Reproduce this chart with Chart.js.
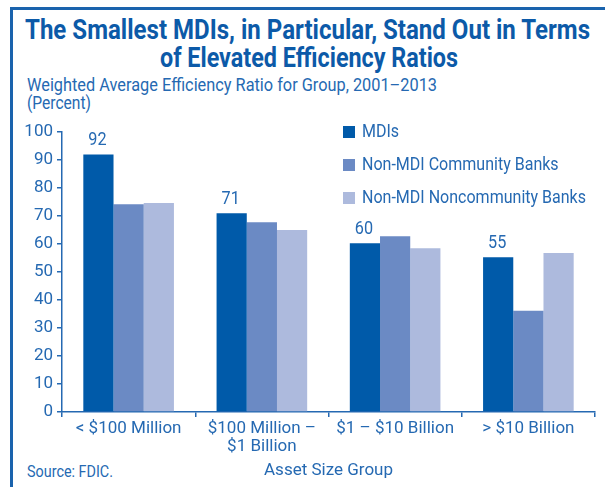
<!DOCTYPE html>
<html>
<head>
<meta charset="utf-8">
<script src="https://cdn.jsdelivr.net/npm/chart.js@4.4.0/dist/chart.umd.min.js"></script>
<style>
  body { margin: 0; background: #fff; }
  #wrap { position: relative; width: 605px; height: 487px; overflow: hidden; font-family: Roboto, sans-serif; color: #2569b2; }
  #frame { position: absolute; left: 10px; top: 7px; width: 700px; height: 600px; border-left: 3px solid #1a63ad; border-top: 3px solid #1a63ad; }
  .fit { position: absolute; white-space: nowrap; transform-origin: 0 0; }
  .title { font-weight: bold; font-size: 28px; color: #0c5aa8; }
  .txt { font-size: 18.5px; }
  canvas { position: absolute; left: 0; top: 0; }
</style>
</head>
<body>
<div id="wrap">
  <div id="frame"></div>
  <div class="fit title" data-x="25" data-w="565" style="top:13px">The Smallest MDIs, in Particular, Stand Out in Terms</div>
  <div class="fit title" data-x="160" data-w="298" style="top:41px">of Elevated Efficiency Ratios</div>
  <div class="fit txt" data-x="27" data-w="410" style="top:74px">Weighted Average Efficiency Ratio for Group, 2001–2013</div>
  <div class="fit txt" data-x="27" data-w="64" style="top:92px">(Percent)</div>
  <div class="fit txt" data-x="27" data-w="86" style="top:461px;font-size:17px">Source: FDIC.</div>
  <canvas id="myChart" width="605" height="487"></canvas>
</div>
<script>
var groups = [["< $100 Million"], ["$100 Million –", "$1 Billion"], ["$1 – $10 Billion"], ["> $10 Billion"]];
var mdis = [92, 71, 60.3, 55.3];
var communityBanks = [74.2, 67.8, 62.8, 36.2];
var noncommunityBanks = [74.6, 65, 58.5, 56.8];
var mdiLabels = ["92", "71", "60", "55"];
var yTicks = [0, 10, 20, 30, 40, 50, 60, 70, 80, 90, 100];

var blue = "#2569b2";
var font = "Roboto, sans-serif";

// squeeze the html texts to the widths of the condensed face
document.querySelectorAll(".fit").forEach(el => {
  const w = el.getBoundingClientRect().width
  el.style.left = el.dataset.x + "px"
  el.style.transform = "scaleX(" + (el.dataset.w / w) + ")"
})

// value labels over the MDI bars
const barLabels = {
  id: "barLabels",
  afterDatasetsDraw(chart) {
    const ctx = chart.ctx
    const meta = chart.getDatasetMeta(0)
    ctx.save()
    ctx.fillStyle = blue
    ctx.font = "18px " + font
    ctx.textAlign = "center"
    ctx.textBaseline = "bottom"
    meta.data.forEach((bar, i) => {
      ctx.save()
      ctx.translate(bar.x - 1, bar.y - 5)
      ctx.scale(0.9, 1)
      ctx.fillText(mdiLabels[i], 0, 0)
      ctx.restore()
    })
    ctx.restore()
  }
}

// legend inside the plot, top right
const boxLegend = {
  id: "boxLegend",
  afterDraw(chart) {
    const ctx = chart.ctx
    const x = chart.chartArea.left + 281
    ctx.save()
    ctx.font = "18px " + font
    ctx.textBaseline = "middle"
    chart.data.datasets.forEach((ds, i) => {
      const y = chart.chartArea.top + 33 * i
      ctx.fillStyle = ds.backgroundColor
      ctx.fillRect(x, y - 6, 12, 12)
      ctx.fillStyle = blue
      ctx.save()
      ctx.translate(x + 19, y)
      ctx.scale(0.89, 1)
      ctx.fillText(ds.label, 0, 0)
      ctx.restore()
    })
    ctx.restore()
  }
}

new Chart("myChart", {
  type: "bar",
  data: {
    labels: groups,
    datasets: [
      { label: "MDIs", data: mdis, backgroundColor: "#005aa9" },
      { label: "Non-MDI Community Banks", data: communityBanks, backgroundColor: "#6b8ac4" },
      { label: "Non-MDI Noncommunity Banks", data: noncommunityBanks, backgroundColor: "#adbadd" }
    ]
  },
  options: {
    responsive: false,
    animation: false,
    layout: { padding: { left: 0, right: 10, top: 132, bottom: 0 } },
    datasets: { bar: { categoryPercentage: 0.68, barPercentage: 1 } },
    plugins: { legend: { display: false }, tooltip: { enabled: false } },
    scales: {
      y: {
        min: 0, max: 100,
        afterFit: s => { s.width = 62 },
        afterBuildTicks: s => { s.ticks = yTicks.map(v => ({ value: v })) },
        border: { color: blue, width: 1.5 },
        grid: { drawOnChartArea: false, color: blue, tickLength: 5, lineWidth: 1.5 },
        ticks: { color: blue, font: { family: font, size: 17 }, padding: 4 }
      },
      x: {
        afterFit: s => { s.height = 75 },
        border: { color: blue, width: 1.5 },
        grid: { offset: true, drawOnChartArea: false, color: blue, tickLength: 5, lineWidth: 1.5 },
        ticks: { color: blue, font: { family: font, size: 17, lineHeight: 1.1 }, padding: 2, maxRotation: 0, autoSkip: false },
        title: { display: true, text: "Asset Size Group", color: blue, font: { family: font, size: 17 }, padding: { top: 0, bottom: 6 } }
      }
    }
  },
  plugins: [barLabels, boxLegend]
});
</script>
</body>
</html>
